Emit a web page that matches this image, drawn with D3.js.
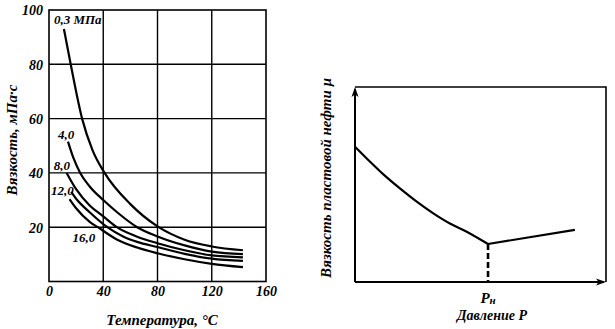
<!DOCTYPE html>
<html><head><meta charset="utf-8">
<script src="https://cdn.jsdelivr.net/npm/d3@7"></script>
<style>
body{margin:0;background:#fff;}
</style></head>
<body>
<svg id="c" width="615" height="329" font-family="Liberation Serif"></svg>
<script>
// ---- Left chart data: viscosity vs temperature for several pressures ----
const xTicks = [0, 40, 80, 120, 160];
const yTicks = [20, 40, 60, 80, 100];
const seriesLabels = ["0,3 МПа", "4,0", "8,0", "12,0", "16,0"];
const temp03 = [11, 16, 24.4, 32, 41, 60, 80, 100, 120, 143];
const mu03   = [93, 80, 60, 48.5, 40, 28.5, 20.3, 15.4, 12.9, 11.5];
const temp40 = [14, 18, 23, 30, 40, 50, 65, 80, 100, 120, 143];
const mu40   = [51.5, 45.5, 40, 35, 30, 25.6, 20, 16.6, 13.3, 11.0, 10.1];
const temp80 = [13, 20, 30, 40, 50, 65, 80, 100, 120, 143];
const mu80   = [40, 34, 28, 24, 20, 16.5, 14.1, 11.5, 9.6, 8.9];
const temp120 = [16.3, 20, 30, 43, 55, 65, 80, 100, 120, 143];
const mu120   = [33, 30.5, 25.5, 20, 16.5, 14.6, 12.7, 10.2, 8.4, 7.6];
const temp160 = [15.2, 20, 30, 36, 50, 65, 80, 100, 120, 143];
const mu160   = [30.3, 27, 22, 20, 15.5, 12.5, 10.4, 8.2, 6.5, 5.3];

// ---- Right chart (schematic): viscosity vs pressure ----
const pBelow  = [0, 0.6, 1.13, 1.79, 2.46, 3.12, 3.78, 4.45, 5.3];
const muBelow = [6.94, 6.17, 5.52, 4.8, 4.12, 3.52, 3.0, 2.58, 1.95];
const pAbove  = [5.3, 8.76];
const muAbove = [1.95, 2.67];
const pSat = 5.3;

const FONT = "Liberation Serif";
const svg = d3.select("#c");

// ================= LEFT CHART =================
const x = d3.scaleLinear().domain([0, 160]).range([49, 266]);
const y = d3.scaleLinear().domain([0, 100]).range([281.5, 10]);
const L = svg.append("g");

L.selectAll(".gx").data(xTicks.slice(1, -1)).join("line")
  .attr("x1", d => x(d)).attr("x2", d => x(d)).attr("y1", y(0)).attr("y2", y(100))
  .attr("stroke", "#000").attr("stroke-width", 1.4);
L.selectAll(".gy").data(yTicks.slice(0, -1)).join("line")
  .attr("x1", x(0)).attr("x2", x(160)).attr("y1", d => y(d)).attr("y2", d => y(d))
  .attr("stroke", "#000").attr("stroke-width", 1.4);
L.append("rect").attr("x", x(0)).attr("y", y(100)).attr("width", x(160) - x(0)).attr("height", y(0) - y(100))
  .attr("fill", "none").attr("stroke", "#000").attr("stroke-width", 1.6);

const ax = L.append("g").attr("transform", `translate(0,${y(0)})`)
  .call(d3.axisBottom(x).tickValues(xTicks).tickSize(0).tickPadding(0).tickFormat(d3.format("d")));
ax.select(".domain").remove();
ax.selectAll("text").attr("dy", null).attr("y", 14).attr("font-size", 14);
const ay = L.append("g").attr("transform", `translate(${x(0)},0)`)
  .call(d3.axisLeft(y).tickValues(yTicks).tickSize(0).tickPadding(6));
ay.select(".domain").remove();
ay.selectAll("text").attr("dy", "0.35em").attr("font-size", 14);

const seriesT = [temp03, temp40, temp80, temp120, temp160];
const seriesM = [mu03, mu40, mu80, mu120, mu160];
const line = d3.line().x(d => x(d[0])).y(d => y(d[1])).curve(d3.curveMonotoneX);
seriesT.forEach((ts, i) => {
  const pts = ts.map((t, j) => [t, seriesM[i][j]]);
  L.append("path").attr("d", line(pts)).attr("fill", "none")
    .attr("stroke", "#000").attr("stroke-width", 2.2);
});
const lblOff = [[-10, -5], [-10, -3], [-13, -3], [-20, 3], [3, 43]];
seriesLabels.forEach((s, i) => {
  L.append("text").attr("x", x(seriesT[i][0]) + lblOff[i][0]).attr("y", y(seriesM[i][0]) + lblOff[i][1])
    .attr("font-size", 13).text(s);
});
L.append("text").attr("x", 162).attr("y", 325).attr("text-anchor", "middle").attr("font-size", 15)
  .text("Температура, °C");
L.append("text").attr("transform", "translate(17,140) rotate(-90)").attr("text-anchor", "middle")
  .attr("font-size", 15).text("Вязкость, мПа·с");

// ================= RIGHT CHART =================
const px = d3.scaleLinear().domain([0, 10]).range([355, 606]);
const py = d3.scaleLinear().domain([0, 10]).range([282, 87]);
const R = svg.append("g");
R.append("path").attr("d", `M${px(0)},${py(10)}H${px(10)}V${py(0)}`)
  .attr("fill", "none").attr("stroke", "#000").attr("stroke-width", 1.6);
R.append("line").attr("x1", px(0)).attr("x2", px(0)).attr("y1", py(0)).attr("y2", py(10) + 2)
  .attr("stroke", "#000").attr("stroke-width", 2);
R.append("line").attr("x1", px(0)).attr("x2", px(10) - 2).attr("y1", py(0)).attr("y2", py(0))
  .attr("stroke", "#000").attr("stroke-width", 2);
R.append("path").attr("d", `M${px(0)},${py(10)} l-3.5,10 l3.5,-2.5 l3.5,2.5 Z`).attr("fill", "#000");
R.append("path").attr("d", `M${px(10)},${py(0)} l-10,-3.5 l2.5,3.5 l-2.5,3.5 Z`).attr("fill", "#000");

const rline = d3.line().x(d => px(d[0])).y(d => py(d[1])).curve(d3.curveCatmullRom.alpha(0.5));
R.append("path").attr("d", rline(pBelow.map((p, i) => [p, muBelow[i]])))
  .attr("fill", "none").attr("stroke", "#000").attr("stroke-width", 2.2);
R.append("path").attr("d", d3.line().x(d => px(d[0])).y(d => py(d[1]))(pAbove.map((p, i) => [p, muAbove[i]])))
  .attr("fill", "none").attr("stroke", "#000").attr("stroke-width", 2.2);
R.append("line").attr("x1", px(pSat)).attr("x2", px(pSat)).attr("y1", py(muBelow[muBelow.length - 1])).attr("y2", py(0))
  .attr("stroke", "#000").attr("stroke-width", 2.6).attr("stroke-dasharray", "6,3");

const pl = R.append("text").attr("x", px(pSat)).attr("y", 303).attr("text-anchor", "middle").attr("font-size", 15);
pl.append("tspan").text("P");
pl.append("tspan").attr("font-size", 11).attr("dy", 1).text("н");
R.append("text").attr("x", 492).attr("y", 320).attr("text-anchor", "middle").attr("font-size", 14)
  .text("Давление P");
R.append("text").attr("transform", "translate(331,178) rotate(-90)").attr("text-anchor", "middle")
  .attr("font-size", 15).text("Вязкость пластовой нефти μ");

svg.selectAll("g").attr("font-family", FONT);
svg.selectAll("text").attr("font-family", FONT).style("font-family", FONT)
  .attr("font-style", "italic").attr("font-weight", "bold").attr("fill", "#000");
</script>
</body></html>
